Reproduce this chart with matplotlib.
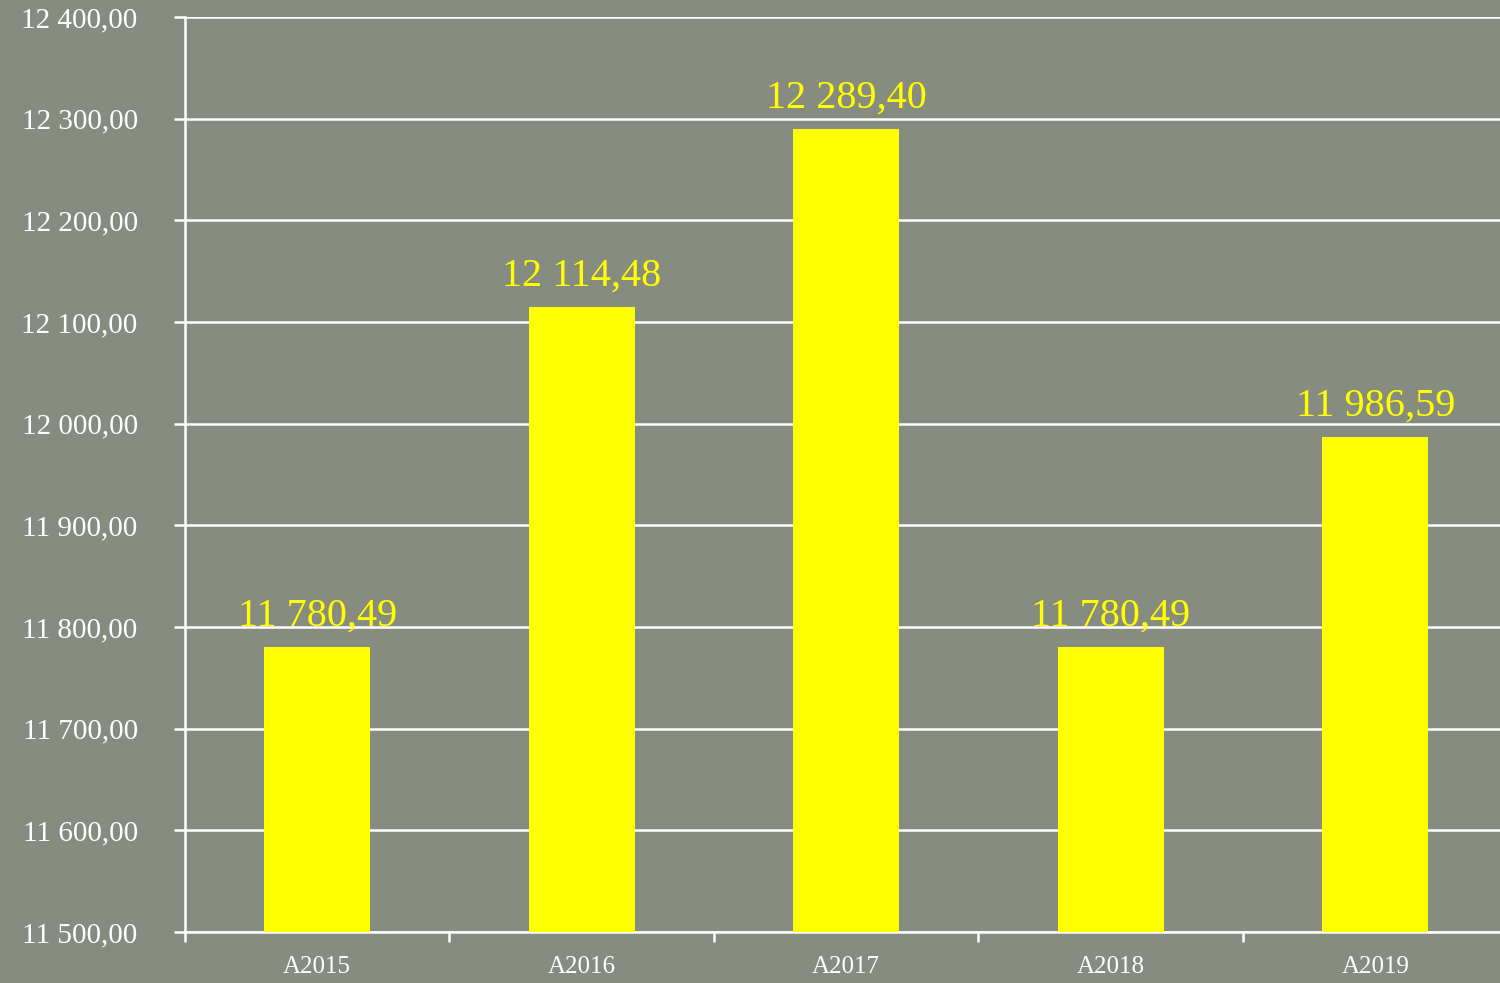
import numpy as np
import matplotlib.pyplot as plt
from matplotlib.ticker import FuncFormatter, FixedLocator

# data
categories = ["A2015", "A2016", "A2017", "A2018", "A2019"]
values = [11780.49, 12114.48, 12289.40, 11780.49, 11986.59]
y_ticks = [11500, 11600, 11700, 11800, 11900, 12000, 12100, 12200, 12300, 12400]

bg = "#878c80"
bar_col = "#ffff00"
font = "Liberation Serif"


def fr_num(v, pos=None):
    # 12 289,40 style
    s = f"{v:,.2f}"
    return s.replace(",", " ").replace(".", ",")


fig = plt.figure(figsize=(15, 9.83), dpi=100, facecolor=bg)
ax = fig.add_axes([0.1233, 0.0519, 0.8817, 0.9308])
ax.set_facecolor(bg)

x = np.arange(len(categories))
ax.bar(x, values, width=0.4, color=bar_col, zorder=3)

for xi, v in zip(x, values):
    ax.annotate(fr_num(v), (xi, v), xytext=(0, 9), textcoords="offset points",
                ha="center", va="bottom", color=bar_col, fontsize=29,
                family=font, zorder=4)

ax.set_xlim(-0.5, len(categories) - 0.5)
ax.set_ylim(11500, 12400)
ax.set_yticks(y_ticks)
ax.yaxis.set_major_formatter(FuncFormatter(fr_num))
ax.set_xticks(x)
ax.set_xticklabels(categories)
ax.xaxis.set_minor_locator(FixedLocator(np.arange(len(categories) + 1) - 0.5))

ax.grid(axis="y", color="white", linewidth=1.8, zorder=1)
ax.tick_params(axis="y", colors="white", labelcolor="white", length=8,
               width=1.8, labelsize=21, pad=26)
ax.tick_params(axis="x", which="major", length=0, labelcolor="white",
               labelsize=18, pad=17)
ax.tick_params(axis="x", which="minor", colors="white", length=7, width=1.8)
for lab in ax.get_yticklabels() + ax.get_xticklabels():
    lab.set_family(font)

for side in ["top", "right"]:
    ax.spines[side].set_visible(False)
for side in ["left", "bottom"]:
    ax.spines[side].set_color("white")
    ax.spines[side].set_linewidth(1.8)

fig.savefig("out.png", dpi=100, facecolor=bg)
